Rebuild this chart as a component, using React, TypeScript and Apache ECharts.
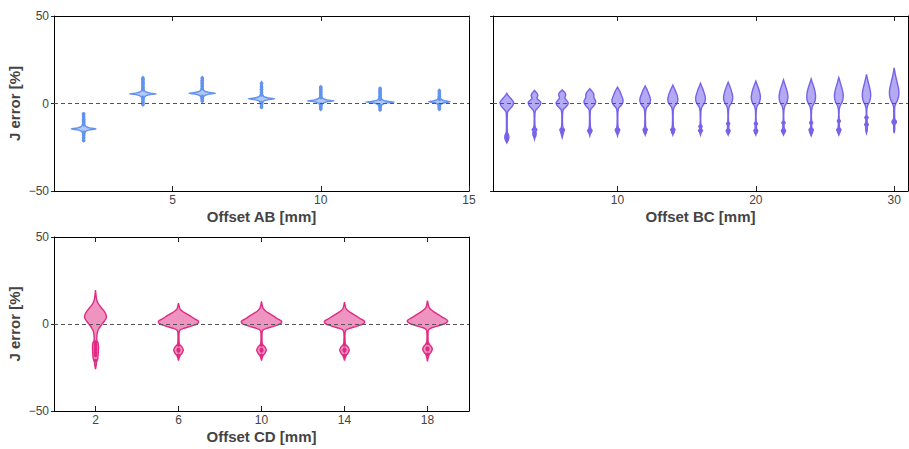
import React, { useEffect, useRef } from "react";
import * as echarts from "echarts";

type Profile = [number, number][];

// ---- Offset AB panel: violin outlines as [J error %, relative density] ----
const abOffsets = [2, 4, 6, 8, 10, 12, 14];
const abDensity: Profile[] = [
  [[-21.5, 0], [-20.5, 0.05], [-17.5, 0.06], [-16.5, 0.1], [-15.6, 0.22], [-15.1, 0.45], [-14.75, 0.75], [-14.5, 0.93], [-14.25, 0.75], [-13.9, 0.45], [-13.4, 0.22], [-12.5, 0.1], [-11.5, 0.06], [-7, 0.05], [-6, 0]],
  [[-1, 0], [0, 0.05], [2.5, 0.06], [3.5, 0.1], [4.4, 0.22], [4.9, 0.45], [5.25, 0.75], [5.5, 1], [5.75, 0.75], [6.1, 0.45], [6.6, 0.22], [7.5, 0.1], [8.5, 0.06], [14, 0.05], [15, 0]],
  [[1, 0], [2, 0.05], [2.8, 0.06], [3.8, 0.1], [4.7, 0.22], [5.2, 0.45], [5.55, 0.75], [5.8, 1], [6.05, 0.75], [6.4, 0.45], [6.9, 0.22], [7.8, 0.1], [8.8, 0.06], [14, 0.05], [15, 0]],
  [[-2.5, 0], [-1.5, 0.05], [-0.3, 0.06], [0.7, 0.1], [1.6, 0.22], [2.1, 0.45], [2.45, 0.75], [2.7, 1], [2.95, 0.75], [3.3, 0.45], [3.8, 0.22], [4.7, 0.1], [5.7, 0.06], [11, 0.05], [12.2, 0]],
  [[-3.6, 0], [-2.6, 0.05], [-1.5, 0.06], [-0.5, 0.1], [0.4, 0.22], [0.9, 0.45], [1.25, 0.75], [1.5, 1], [1.75, 0.75], [2.1, 0.45], [2.6, 0.22], [3.5, 0.1], [4.5, 0.06], [8.7, 0.05], [9.7, 0]],
  [[-4, 0], [-3, 0.05], [-2.2, 0.06], [-1.2, 0.1], [-0.3, 0.22], [0.2, 0.45], [0.55, 0.78], [0.8, 1.08], [1.05, 0.78], [1.4, 0.45], [1.9, 0.22], [2.8, 0.1], [3.8, 0.06], [8, 0.05], [9, 0]],
  [[-3.6, 0], [-2.6, 0.05], [-2, 0.06], [-1, 0.09], [-0.1, 0.2], [0.4, 0.38], [0.75, 0.62], [1, 0.82], [1.25, 0.62], [1.6, 0.38], [2.1, 0.2], [3, 0.09], [4, 0.06], [6.8, 0.05], [7.8, 0]],
];
const abPoints: number[][] = [
  [-6, -7.5, -9, -10, -11, -12, -16.5, -18, -19.5, -21],
  [-0.5, 1, 2.5, 3.5, 8, 9.5, 11, 12, 13.5, 14.5],
  [1.5, 3, 4, 8.5, 10, 11.5, 13, 14.5],
  [-2, -0.5, 0.5, 5, 6.5, 8, 9.5, 11.5],
  [-3, -1.5, -0.5, 3.5, 5, 6.5, 8, 9.3],
  [-3.5, -2, -1, 2.5, 4, 5.5, 7, 8.5],
  [-3, -2, -0.5, 2.5, 4, 5.5, 7.2],
];

// ---- Offset BC panel ----
const bcOffsets = [2, 4, 6, 8, 10, 12, 14, 16, 18, 20, 22, 24, 26, 28, 30];
const bcDensity: Profile[] = [
  [[-22.5, 0], [-21, 0.2], [-19.5, 0.3], [-18, 0.25], [-17, 0.1], [-15, 0.06], [-8, 0.06], [-5, 0.1], [-4, 0.25], [-2.5, 0.6], [-1, 0.9], [0.7, 1], [2, 0.78], [3.5, 0.45], [4.8, 0.16], [5.8, 0]],
  [[-20.5, 0], [-19, 0.1], [-17.5, 0.25], [-16, 0.2], [-15, 0.35], [-14, 0.16], [-12, 0.06], [-6, 0.06], [-4, 0.16], [-2.5, 0.5], [-1, 0.82], [0.7, 0.92], [2, 0.6], [2.8, 0.37], [3.6, 0.4], [4.6, 0.5], [5.8, 0.37], [6.8, 0.16], [7.5, 0]],
  [[-19.5, 0], [-18, 0.1], [-16.5, 0.2], [-15, 0.34], [-14, 0.16], [-12, 0.06], [-6, 0.06], [-3.5, 0.16], [-2.2, 0.5], [-0.8, 0.8], [0.5, 0.9], [2, 0.62], [3, 0.4], [4, 0.44], [5, 0.53], [6.3, 0.38], [7.2, 0.16], [7.8, 0]],
  [[-18.5, 0], [-17, 0.1], [-15.5, 0.34], [-14.5, 0.16], [-12, 0.06], [-5, 0.06], [-3, 0.18], [-1.5, 0.55], [0, 0.8], [1.5, 0.85], [3, 0.65], [4, 0.58], [5, 0.6], [6.2, 0.48], [7.4, 0.22], [8.5, 0]],
  [[-18.5, 0], [-17, 0.1], [-15, 0.34], [-14, 0.14], [-12, 0.06], [-5, 0.06], [-2.5, 0.2], [-1, 0.55], [0.5, 0.78], [2, 0.82], [3.5, 0.7], [5, 0.55], [6.5, 0.4], [8, 0.2], [9.3, 0]],
  [[-18, 0], [-16.5, 0.12], [-15, 0.32], [-14, 0.14], [-12, 0.06], [-5, 0.06], [-2.5, 0.2], [-1, 0.5], [0.5, 0.72], [2.3, 0.78], [4, 0.68], [5.5, 0.52], [7, 0.38], [8.5, 0.2], [10, 0]],
  [[-18, 0], [-16.5, 0.12], [-15, 0.32], [-14, 0.14], [-12, 0.06], [-4.5, 0.06], [-2, 0.2], [-0.5, 0.5], [1, 0.7], [2.5, 0.74], [4.5, 0.65], [6, 0.5], [7.5, 0.36], [9, 0.18], [10.5, 0]],
  [[-18, 0], [-16.5, 0.12], [-15.5, 0.3], [-14.5, 0.12], [-13, 0.22], [-12, 0.06], [-4.5, 0.06], [-2, 0.2], [-0.5, 0.45], [1, 0.65], [3, 0.72], [5, 0.62], [6.5, 0.5], [8.5, 0.32], [10, 0.15], [11.5, 0]],
  [[-18, 0], [-16.5, 0.14], [-15.5, 0.3], [-14.5, 0.12], [-12.5, 0.1], [-11.5, 0.22], [-10.5, 0.06], [-4, 0.06], [-1.5, 0.2], [0, 0.45], [2, 0.64], [3.5, 0.68], [5.5, 0.6], [7.5, 0.46], [9.5, 0.28], [11, 0.12], [12.2, 0]],
  [[-18, 0], [-16.5, 0.14], [-15.5, 0.3], [-14.5, 0.12], [-12.5, 0.1], [-11.5, 0.22], [-10.5, 0.06], [-4, 0.06], [-1.5, 0.2], [0, 0.45], [2, 0.62], [3.8, 0.67], [5.8, 0.6], [8, 0.45], [10, 0.27], [11.6, 0.12], [12.8, 0]],
  [[-18, 0], [-16.5, 0.16], [-15.5, 0.32], [-14.5, 0.14], [-12, 0.08], [-11, 0.22], [-10, 0.06], [-4, 0.06], [-1.5, 0.2], [0, 0.42], [2, 0.6], [4, 0.65], [6, 0.58], [8.5, 0.42], [10.5, 0.25], [12.2, 0.1], [13.5, 0]],
  [[-18.5, 0], [-17, 0.14], [-15, 0.32], [-14, 0.12], [-12, 0.08], [-11, 0.22], [-10, 0.06], [-4, 0.06], [-1.5, 0.2], [0, 0.42], [2, 0.6], [4, 0.65], [6.5, 0.58], [9, 0.42], [11, 0.25], [12.8, 0.1], [14, 0]],
  [[-18, 0], [-16.5, 0.14], [-15, 0.32], [-14, 0.12], [-11, 0.08], [-10, 0.22], [-9, 0.06], [-3.5, 0.06], [-1, 0.22], [0.5, 0.45], [2.5, 0.6], [4.5, 0.65], [7, 0.56], [9.5, 0.4], [11.5, 0.24], [13.5, 0.1], [14.8, 0]],
  [[-17, 0], [-15.5, 0.1], [-13, 0.14], [-12, 0.26], [-11, 0.12], [-9, 0.1], [-8, 0.24], [-7, 0.06], [-3, 0.06], [-0.8, 0.2], [1, 0.45], [3, 0.58], [5, 0.62], [7.5, 0.55], [10, 0.4], [12.5, 0.24], [14.8, 0.1], [16.6, 0]],
  [[-17, 0], [-15, 0.08], [-12, 0.1], [-11, 0.3], [-10, 0.3], [-9, 0.1], [-6, 0.06], [-2, 0.08], [0, 0.25], [2, 0.5], [4, 0.65], [6, 0.7], [8.5, 0.65], [11, 0.5], [13.5, 0.36], [16, 0.2], [18.5, 0.08], [20.4, 0]],
];
const bcPoints: number[][] = [
  [-17.5, -19, -20.5],
  [-14.5, -16.5, -18.5],
  [-15, -16.5],
  [-15, -16.5],
  [-15, -16.5],
  [-15, -16.5],
  [-15, -16.5],
  [-13, -15.5],
  [-11.5, -15.5, -16.5],
  [-11.5, -15.5, -16.5],
  [-11, -15.5, -16.5],
  [-11, -15, -16.5],
  [-10, -15, -16],
  [-8, -12],
  [-10.5, -11],
];

// ---- Offset CD panel ----
const cdOffsets = [2, 6, 10, 14, 18];
const cdDensity: Profile[] = [
  [[-26, 0], [-24, 0.03], [-21.5, 0.06], [-20.5, 0.1], [-19, 0.12], [-16, 0.14], [-13, 0.15], [-11, 0.13], [-9.5, 0.07], [-7, 0.07], [-5, 0.09], [-3, 0.15], [-1, 0.26], [1, 0.4], [3, 0.52], [4.2, 0.54], [5.5, 0.52], [7.5, 0.42], [9.5, 0.28], [11.5, 0.15], [13.5, 0.07], [16, 0.03], [19.5, 0]],
  [[-21, 0], [-19.5, 0.03], [-18, 0.08], [-17, 0.16], [-15, 0.24], [-13, 0.16], [-12, 0.06], [-10.5, 0.03], [-5, 0.03], [-3.5, 0.08], [-2.5, 0.25], [-1.5, 0.55], [-0.5, 0.82], [0.5, 0.97], [1.5, 1], [2.5, 0.88], [3.5, 0.72], [4.5, 0.6], [5.5, 0.45], [6.5, 0.3], [7.5, 0.18], [8.5, 0.08], [10, 0.04], [12, 0]],
  [[-21, 0], [-19.5, 0.03], [-18, 0.08], [-17, 0.16], [-15, 0.24], [-13, 0.16], [-12, 0.06], [-10.5, 0.03], [-5, 0.03], [-3.5, 0.08], [-2.5, 0.25], [-1.5, 0.55], [-0.5, 0.82], [0.5, 0.97], [1.5, 1], [2.5, 0.88], [3.5, 0.72], [4.5, 0.6], [5.5, 0.46], [6.5, 0.32], [7.5, 0.2], [8.8, 0.09], [10.5, 0.04], [13, 0]],
  [[-21, 0], [-19.5, 0.03], [-18, 0.08], [-17, 0.16], [-15, 0.24], [-13, 0.16], [-12, 0.06], [-10.5, 0.03], [-5, 0.03], [-3.5, 0.08], [-2.5, 0.25], [-1.5, 0.55], [-0.5, 0.82], [0.5, 0.97], [1.5, 1], [2.5, 0.88], [3.5, 0.72], [4.5, 0.6], [5.5, 0.45], [6.5, 0.31], [7.5, 0.19], [8.7, 0.08], [10.3, 0.04], [12.5, 0]],
  [[-21.5, 0], [-19.5, 0.03], [-17.5, 0.08], [-16.5, 0.16], [-14.3, 0.24], [-12.5, 0.16], [-11.3, 0.06], [-10, 0.03], [-4.5, 0.03], [-3, 0.08], [-2, 0.25], [-1, 0.55], [0, 0.82], [1, 0.97], [2, 1], [3, 0.88], [4, 0.72], [5, 0.6], [6, 0.46], [7, 0.32], [8, 0.2], [9.3, 0.09], [11, 0.04], [13.5, 0]],
];
const cdPoints: number[][] = [
  [-10.5, -12, -13.5, -15, -16.5, -18, -21],
  [-12, -14.6, -15, -15.4, -18],
  [-12, -14.6, -15, -15.4, -18],
  [-12, -14.6, -15, -15.4, -18],
  [-11, -13.9, -14.3, -14.7, -17.5],
];

// ---- tick positions ----
const yTicks = [-50, 0, 50];
const abTicks = [5, 10, 15];
const bcTicks = [10, 20, 30];
const cdTicks = [2, 6, 10, 14, 18];

const FONT = "'Liberation Sans', Arial, Helvetica, sans-serif";
const LABEL_COLOR = "#444";

function minusFmt(v: number) {
  return v < 0 ? "\u2212" + Math.abs(v) : String(v);
}

function violinSeries(
  xAxisIndex: number,
  yAxisIndex: number,
  offsets: number[],
  density: Profile[],
  points: number[][],
  edge: string,
  fill: string,
  halfWidth: number
) {
  return {
    type: "custom",
    xAxisIndex,
    yAxisIndex,
    z: 3,
    data: offsets.map((x, i) => [x, density[i][0][0], density[i][density[i].length - 1][0]]),
    encode: { x: 0, y: [1, 2] },
    renderItem: (params: any, api: any) => {
      const i = params.dataIndex;
      const x = offsets[i];
      const prof = density[i];
      const right = prof.map(([y, d]) => api.coord([x + d * halfWidth, y]));
      const left = prof
        .slice()
        .reverse()
        .map(([y, d]) => api.coord([x - d * halfWidth, y]));
      const children: any[] = [
        {
          type: "polygon",
          shape: { points: right.concat(left), smooth: 0.25 },
          style: { fill, stroke: edge, lineWidth: 1.4 },
        },
      ];
      points[i].forEach((y) => {
        const c = api.coord([x, y]);
        children.push({
          type: "circle",
          shape: { cx: c[0], cy: c[1], r: 1.9 },
          style: { fill: edge },
        });
      });
      return { type: "group", children };
    },
    markLine: {
      silent: true,
      symbol: "none",
      label: { show: false },
      lineStyle: { type: [4, 3], color: "#555", width: 1 },
      data: [{ yAxis: 0 }],
    },
  };
}

function bottomAxis(gridIndex: number, min: number, max: number, ticks: number[], name: string) {
  return {
    type: "value",
    gridIndex,
    position: "bottom",
    min,
    max,
    name,
    nameLocation: "middle",
    nameGap: 18,
    nameTextStyle: { fontFamily: FONT, fontSize: 15, fontWeight: "bold", color: LABEL_COLOR },
    axisLine: { show: true, onZero: false, lineStyle: { color: "#000", width: 1 } },
    axisTick: { show: true, inside: true, length: 5, customValues: ticks, lineStyle: { color: "#222" } },
    axisLabel: { show: true, customValues: ticks, margin: 3, fontFamily: FONT, fontSize: 12, color: LABEL_COLOR },
    splitLine: { show: false },
  };
}

function topAxis(gridIndex: number, min: number, max: number, ticks: number[]) {
  return {
    type: "value",
    gridIndex,
    position: "top",
    min,
    max,
    axisLine: { show: true, onZero: false, lineStyle: { color: "#000", width: 1 } },
    axisTick: { show: true, inside: true, length: 5, customValues: ticks, lineStyle: { color: "#222" } },
    axisLabel: { show: false },
    splitLine: { show: false },
  };
}

function leftAxis(gridIndex: number, withLabels: boolean) {
  return {
    type: "value",
    gridIndex,
    position: "left",
    min: -50,
    max: 50,
    interval: 50,
    name: withLabels ? "J error [%]" : "",
    nameLocation: "middle",
    nameGap: 32,
    nameTextStyle: { fontFamily: FONT, fontSize: 15, fontWeight: "bold", color: LABEL_COLOR },
    axisLine: { show: true, onZero: false, lineStyle: { color: "#000", width: 1 } },
    axisTick: { show: true, length: 3, customValues: yTicks, lineStyle: { color: "#222" } },
    axisLabel: {
      show: withLabels,
      customValues: yTicks,
      margin: 5,
      fontFamily: FONT,
      fontSize: 12,
      color: LABEL_COLOR,
      formatter: minusFmt,
    },
    splitLine: { show: false },
  };
}

function rightAxis(gridIndex: number) {
  return {
    type: "value",
    gridIndex,
    position: "right",
    min: -50,
    max: 50,
    interval: 50,
    axisLine: { show: true, onZero: false, lineStyle: { color: "#000", width: 1 } },
    axisTick: { show: false },
    axisLabel: { show: false },
    splitLine: { show: false },
  };
}

export default function App() {
  const ref = useRef<HTMLDivElement>(null);

  useEffect(() => {
    if (!ref.current) return;
    const chart = echarts.init(ref.current, undefined, { renderer: "svg" });
    chart.setOption({
      animation: false,
      backgroundColor: "#fff",
      textStyle: { fontFamily: FONT },
      grid: [
        { left: 54, top: 16, width: 415, height: 175 },
        { left: 493, top: 16, width: 415, height: 175 },
        { left: 54, top: 237, width: 415, height: 174 },
      ],
      xAxis: [
        bottomAxis(0, 1, 15, abTicks, "Offset AB [mm]"),
        topAxis(0, 1, 15, abTicks),
        bottomAxis(1, 1, 31, bcTicks, "Offset BC [mm]"),
        topAxis(1, 1, 31, bcTicks),
        bottomAxis(2, 0, 20, cdTicks, "Offset CD [mm]"),
        topAxis(2, 0, 20, cdTicks),
      ],
      yAxis: [
        leftAxis(0, true),
        rightAxis(0),
        leftAxis(1, false),
        rightAxis(1),
        leftAxis(2, true),
        rightAxis(2),
      ],
      series: [
        violinSeries(0, 0, abOffsets, abDensity, abPoints, "#6293ee", "rgba(98,147,238,0.5)", 0.45),
        violinSeries(2, 2, bcOffsets, bcDensity, bcPoints, "#7663ea", "rgba(118,99,234,0.55)", 0.49),
        violinSeries(4, 4, cdOffsets, cdDensity, cdPoints, "#e02a83", "rgba(224,42,131,0.5)", 0.97),
      ],
    });
    return () => chart.dispose();
  }, []);

  return (
    <div
      ref={ref}
      style={{ position: "absolute", left: 0, top: 0, width: 909, height: 449, background: "#fff" }}
    />
  );
}
